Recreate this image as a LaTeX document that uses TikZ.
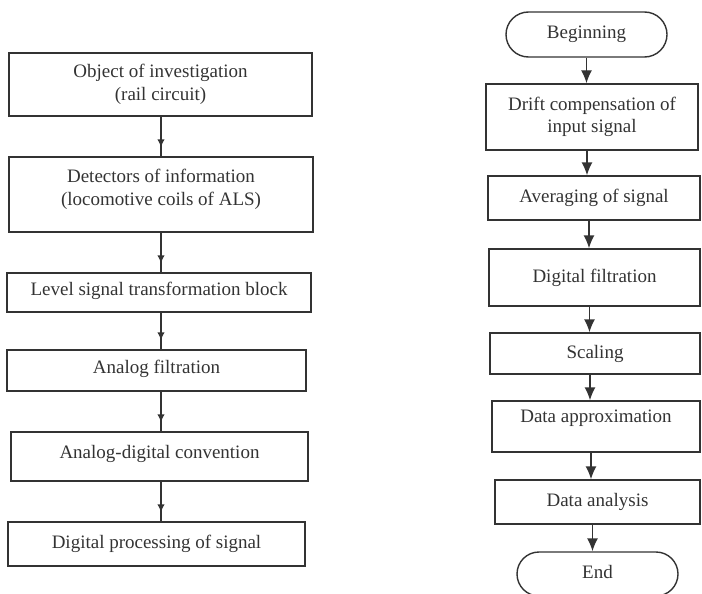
\documentclass[tikz,border=0pt]{standalone}
\usepackage{fontspec}
\setmainfont{Liberation Serif}
\usetikzlibrary{arrows.meta,shapes.misc,decorations.markings}
\definecolor{ink}{HTML}{333333}
\newcommand\txtup[2]{\raisebox{#1}[\height][\depth]{#2}}
\newcommand\twol[2]{\begin{tabular}{@{}c@{}}#1\\#2\end{tabular}}
\begin{document}
\begin{tikzpicture}[x=1pt,y=-1pt,
  every node/.style={font=\fontsize{19}{22.5}\selectfont, text=ink},
  box/.style={draw=ink, line width=1.4pt, rectangle, inner sep=0pt},
  term/.style={draw=ink, line width=1.4pt, rounded rectangle, inner sep=0pt},
  larrow/.style={draw=ink, color=ink, line width=1.4pt, postaction={decorate},
    decoration={markings, mark=at position -9pt with {\arrow{Latex[length=8pt,width=7.5pt]}}}},
  rarrow/.style={draw=ink, color=ink, line width=1.4pt, -{Latex[length=13pt,width=11pt]}}
]
\useasboundingbox (0,0) rectangle (702,594);

% left column
\node[box, minimum width=303pt, minimum height=63pt] (b1) at (160.5,84.5)
  {\twol{Object of investigation}{(rail circuit)}};
\node[box, minimum width=304pt, minimum height=75pt] (b2) at (161,194.5)
  {\txtup{5pt}{\twol{Detectors of information}{(locomotive coils of ALS)}}};
\node[box, minimum width=304pt, minimum height=39pt] (b3) at (159,292.5)
  {\txtup{2pt}{Level signal transformation block}};
\node[box, minimum width=299pt, minimum height=41pt] (b4) at (156.5,370.5)
  {\txtup{2pt}{Analog filtration}};
\node[box, minimum width=297pt, minimum height=49pt] (b5) at (159.5,456.5)
  {\txtup{3pt}{Analog-digital convention}};
\node[box, minimum width=297pt, minimum height=44pt] (b6) at (156.5,544)
  {Digital processing of signal};

\draw[larrow] (b1.south -| b2.center) -- (b2.north -| b2.center);
\draw[larrow] (b2.south -| b2.center) -- (b3.north -| b2.center);
\draw[larrow] (b3.south -| b2.center) -- (b4.north -| b2.center);
\draw[larrow] (b4.south -| b2.center) -- (b5.north -| b2.center);
\draw[larrow] (b5.south -| b2.center) -- (b6.north -| b2.center);

% right column
\node[term, minimum width=161pt, minimum height=45pt] (beg) at (586.5,34.5) {Beginning};
\node[box, minimum width=212pt, minimum height=66pt] (drift) at (592,117)
  {\twol{Drift compensation of}{input signal}};
\node[box, minimum width=212pt, minimum height=44pt] (avg) at (594,198) {Averaging of signal};
\node[box, minimum width=211pt, minimum height=57pt] (dfilt) at (594.5,277.5) {Digital filtration};
\node[box, minimum width=210pt, minimum height=41pt] (scal) at (595,353.5) {Scaling};
\node[box, minimum width=208pt, minimum height=51pt] (dapp) at (596,426.5)
  {\txtup{8pt}{Data approximation}};
\node[box, minimum width=205pt, minimum height=44pt] (dana) at (597.5,502) {Data analysis};
\node[term, minimum width=161pt, minimum height=44pt] (fin) at (597.5,574) {\txtup{2pt}{End}};

\draw[rarrow] (beg.south) -- (beg.south |- drift.north);
\draw[rarrow] ([xshift=-5pt]drift.south) -- ([xshift=-5pt]drift.south |- avg.north);
\draw[rarrow] ([xshift=-5pt]avg.south) -- ([xshift=-5pt]avg.south |- dfilt.north);
\draw[rarrow] ([xshift=-5pt]dfilt.south) -- ([xshift=-5pt]dfilt.south |- scal.north);
\draw[rarrow] ([xshift=-5pt]scal.south) -- ([xshift=-5pt]scal.south |- dapp.north);
\draw[rarrow] ([xshift=-5pt]dapp.south) -- ([xshift=-5pt]dapp.south |- dana.north);
\draw[rarrow] ([xshift=-5pt]dana.south) -- ([xshift=-5pt]dana.south |- fin.north);
\end{tikzpicture}
\end{document}
